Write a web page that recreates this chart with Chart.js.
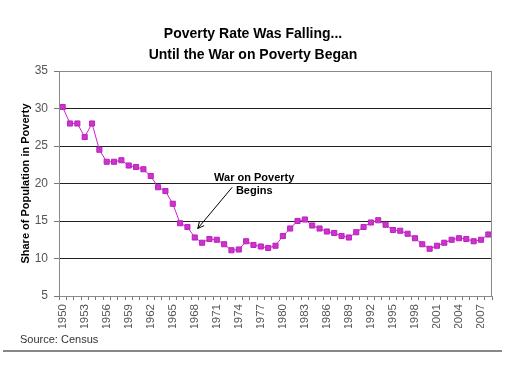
<!DOCTYPE html>
<html>
<head>
<meta charset="utf-8">
<script src="https://cdn.jsdelivr.net/npm/chart.js@4/dist/chart.umd.min.js"></script>
<style>
  html, body { margin: 0; padding: 0; background: #fff; }
  #wrap { width: 532px; height: 380px; position: relative; }
</style>
</head>
<body>
<div id="wrap"><canvas id="c"></canvas></div>
<script>
// ---- data ----
const years = [];
for (let y = 1950; y <= 2008; y++) years.push(String(y));
const povertyRate = [
  30.2, 28.0, 28.0, 26.2, 28.0, 24.5, 22.9, 22.9, 23.1, 22.4,
  22.2, 21.9, 21.0, 19.5, 19.0, 17.3, 14.7, 14.2, 12.8, 12.1,
  12.6, 12.5, 11.9, 11.1, 11.2, 12.3, 11.8, 11.6, 11.4, 11.7,
  13.0, 14.0, 15.0, 15.2, 14.4, 14.0, 13.6, 13.4, 13.0, 12.8,
  13.5, 14.2, 14.8, 15.1, 14.5, 13.8, 13.7, 13.3, 12.7, 11.9,
  11.3, 11.7, 12.1, 12.5, 12.7, 12.6, 12.3, 12.5, 13.2
];
const titleLines = ['Poverty Rate Was Falling...', 'Until the War on Poverty Began'];
const yAxisTitle = 'Share of Population in Poverty';
const yTicks = [5, 10, 15, 20, 25, 30, 35];
const labelEvery = 3;
const annotationLines = ['War on Poverty', 'Begins'];
// annotation anchors in data units: [category index, value]
const annotationTextAt = [26.1, 20.7];
const arrowFrom = [23.1, 19.5];
const arrowTo = [18.4, 14.0];
const sourceText = 'Source: Census';

const FONT = "'Liberation Sans', Arial, Helvetica, sans-serif";
const LINE = '#CC22CC';

const extras = {
  id: 'extras',
  beforeDraw(chart) {
    const c = chart.ctx;
    c.save();
    c.fillStyle = '#fff';
    c.fillRect(0, 0, chart.width, chart.height);
    c.restore();
  },
  afterDraw(chart) {
    const c = chart.ctx;
    const a = chart.chartArea;
    const xs = chart.scales.x, ys = chart.scales.y;
    c.save();
    // plot frame
    c.strokeStyle = '#8a8a8a';
    c.lineWidth = 1;
    c.strokeRect(Math.round(a.left) + 0.5, Math.round(a.top) + 0.5,
                 Math.round(a.right - a.left) - 1, Math.round(a.bottom - a.top));
    // annotation text
    c.fillStyle = '#000';
    c.font = 'bold 11px ' + FONT;
    c.textAlign = 'center';
    c.textBaseline = 'middle';
    const tx = xs.getPixelForValue(annotationTextAt[0]);
    const ty = ys.getPixelForValue(annotationTextAt[1]);
    annotationLines.forEach((t, i) => c.fillText(t, tx, ty + i * 13));
    // arrow
    const x1 = xs.getPixelForValue(arrowFrom[0]), y1 = ys.getPixelForValue(arrowFrom[1]);
    const x2 = xs.getPixelForValue(arrowTo[0]), y2 = ys.getPixelForValue(arrowTo[1]);
    c.strokeStyle = '#000';
    c.lineWidth = 1;
    c.beginPath(); c.moveTo(x1, y1); c.lineTo(x2, y2); c.stroke();
    const ang = Math.atan2(y2 - y1, x2 - x1);
    const L = 7, w = 0.45;
    c.beginPath();
    c.moveTo(x2 - L * Math.cos(ang - w), y2 - L * Math.sin(ang - w));
    c.lineTo(x2, y2);
    c.lineTo(x2 - L * Math.cos(ang + w), y2 - L * Math.sin(ang + w));
    c.stroke();
    // source + rule
    c.font = '11px ' + FONT;
    c.fillStyle = '#333';
    c.textAlign = 'left';
    c.fillText(sourceText, 20, 340);
    c.strokeStyle = '#111';
    c.lineWidth = 1.2;
    c.beginPath(); c.moveTo(3, 351); c.lineTo(502, 351); c.stroke();
    c.restore();
  }
};

new Chart(document.getElementById('c'), {
  type: 'line',
  data: {
    labels: years,
    datasets: [{
      data: povertyRate,
      borderColor: LINE,
      backgroundColor: LINE,
      borderWidth: 1,
      tension: 0,
      pointStyle: 'rect',
      pointRadius: 3.6,
      pointBackgroundColor: '#CC33CC',
      pointBorderColor: '#BB22BB',
      pointBorderWidth: 1
    }]
  },
  options: {
    responsive: true,
    maintainAspectRatio: false,
    animation: false,
    layout: { padding: { top: 0, left: 14, right: 40, bottom: 52 } },
    plugins: {
      legend: { display: false },
      tooltip: { enabled: false },
      title: {
        display: true,
        text: titleLines,
        color: '#000',
        font: { family: FONT, size: 14, weight: 'bold', lineHeight: 1.5 },
        padding: { top: 24, bottom: 5 }
      }
    },
    scales: {
      x: {
        type: 'category',
        offset: true,
        afterFit(s) { s.height = 32; },
        grid: { display: true, drawOnChartArea: false, offset: true, tickLength: 4, tickColor: '#777' },
        border: { display: true, color: '#8a8a8a' },
        ticks: {
          autoSkip: false, maxRotation: 90, minRotation: 90, padding: 4,
          color: '#555', font: { family: FONT, size: 11.5 },
          callback(v, i) { return i % labelEvery === 0 ? this.getLabelForValue(v) : ''; }
        }
      },
      y: {
        min: 5, max: 35,
        afterFit(s) { s.width = 45; },
        afterBuildTicks(s) { s.ticks = yTicks.map(v => ({ value: v })); },
        grid: {
          color: (ctx) => (ctx.tick && (ctx.tick.value === 5 || ctx.tick.value === 35)) ? '#8a8a8a' : '#222',
          tickLength: 5, tickColor: '#777', lineWidth: 1
        },
        border: { display: true, color: '#8a8a8a' },
        ticks: { padding: 6, color: '#555', font: { family: FONT, size: 12 } },
        title: {
          display: true, text: yAxisTitle, color: '#000',
          font: { family: FONT, size: 11, weight: 'bold' },
          padding: { top: 5, bottom: 0 }
        }
      }
    }
  },
  plugins: [extras]
});
</script>
</body>
</html>
